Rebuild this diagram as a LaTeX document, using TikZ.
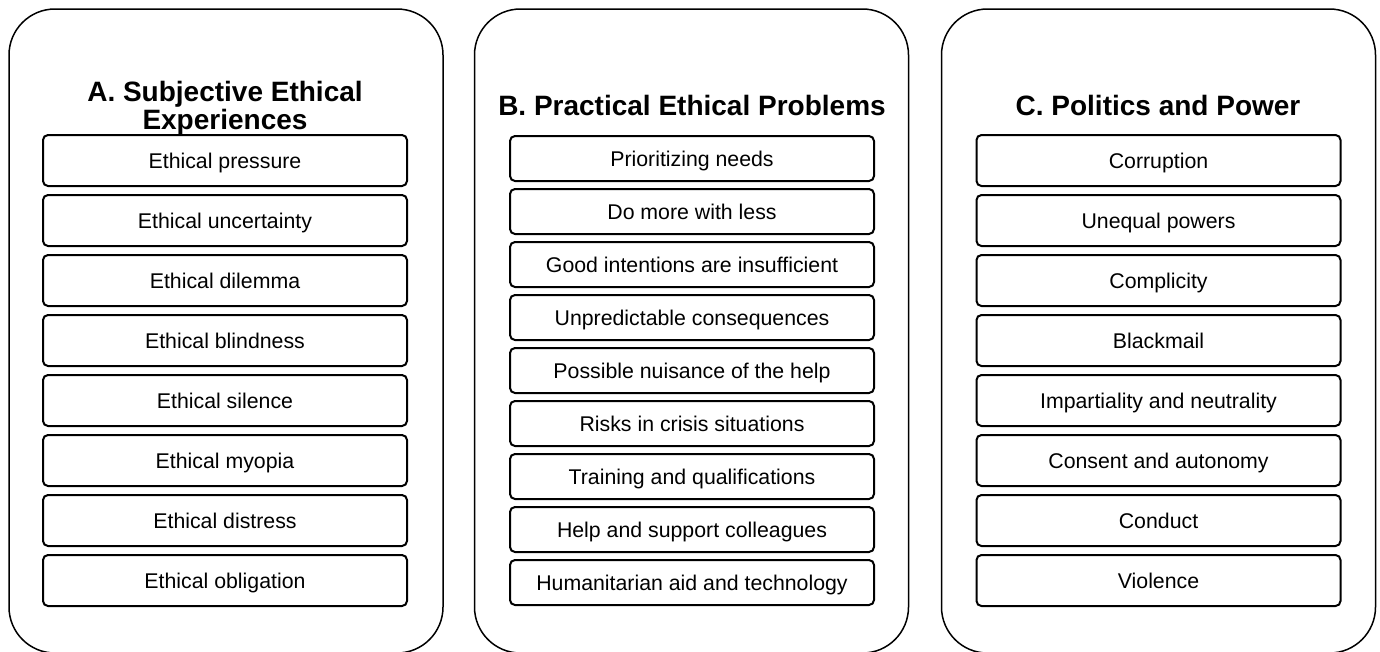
\documentclass[tikz,border=0pt]{standalone}
\usepackage{fontspec}
\setmainfont{Liberation Sans}
\begin{document}
\begin{tikzpicture}[x=1pt,y=-1pt,
  panel/.style={draw, line width=1.5pt, rounded corners=46pt, minimum width=434pt, minimum height=644pt, inner sep=0pt},
  item/.style={draw, line width=2pt, rounded corners=5pt, minimum width=364pt, inner sep=0pt,
    font=\fontsize{21.3}{24}\selectfont, text height=15.3pt, text depth=0pt},
  itemA/.style={item, minimum height=51pt},
  itemB/.style={item, minimum height=45pt},
  title/.style={font=\fontsize{28}{24.5}\selectfont\bfseries, align=center, inner sep=0pt}]
\useasboundingbox (0,0) rectangle (1380,651);
% panels
\node[panel] (pA) at (226,331) {};
\node[panel] (pB) at (691.5,331) {};
\node[panel] (pC) at (1158.5,331) {};
% titles
\node[title, anchor=north] (tA) at (225,81.5) {A. Subjective Ethical\\Experiences};
\node[title, anchor=base] (tB) at (692,115) {B. Practical Ethical Problems};
\node[title, anchor=base] (tC) at (1158,115) {C. Politics and Power};
% column A
\foreach \t [count=\i] in {Ethical pressure, Ethical uncertainty, Ethical dilemma, Ethical blindness,
  Ethical silence, Ethical myopia, Ethical distress, Ethical obligation}
  \node[itemA] (a\i) at (225,{160.5+60*(\i-1)}) {\t};
% column B
\foreach \t [count=\i] in {Prioritizing needs, Do more with less, Good intentions are insufficient,
  Unpredictable consequences, Possible nuisance of the help, Risks in crisis situations,
  Training and qualifications, Help and support colleagues, Humanitarian aid and technology}
  \node[itemB] (b\i) at (692,{158.5+53*(\i-1)}) {\t};
% column C
\foreach \t [count=\i] in {Corruption, Unequal powers, Complicity, Blackmail,
  Impartiality and neutrality, Consent and autonomy, Conduct, Violence}
  \node[itemA] (c\i) at (1158.5,{160.5+60*(\i-1)}) {\t};
\end{tikzpicture}
\end{document}
